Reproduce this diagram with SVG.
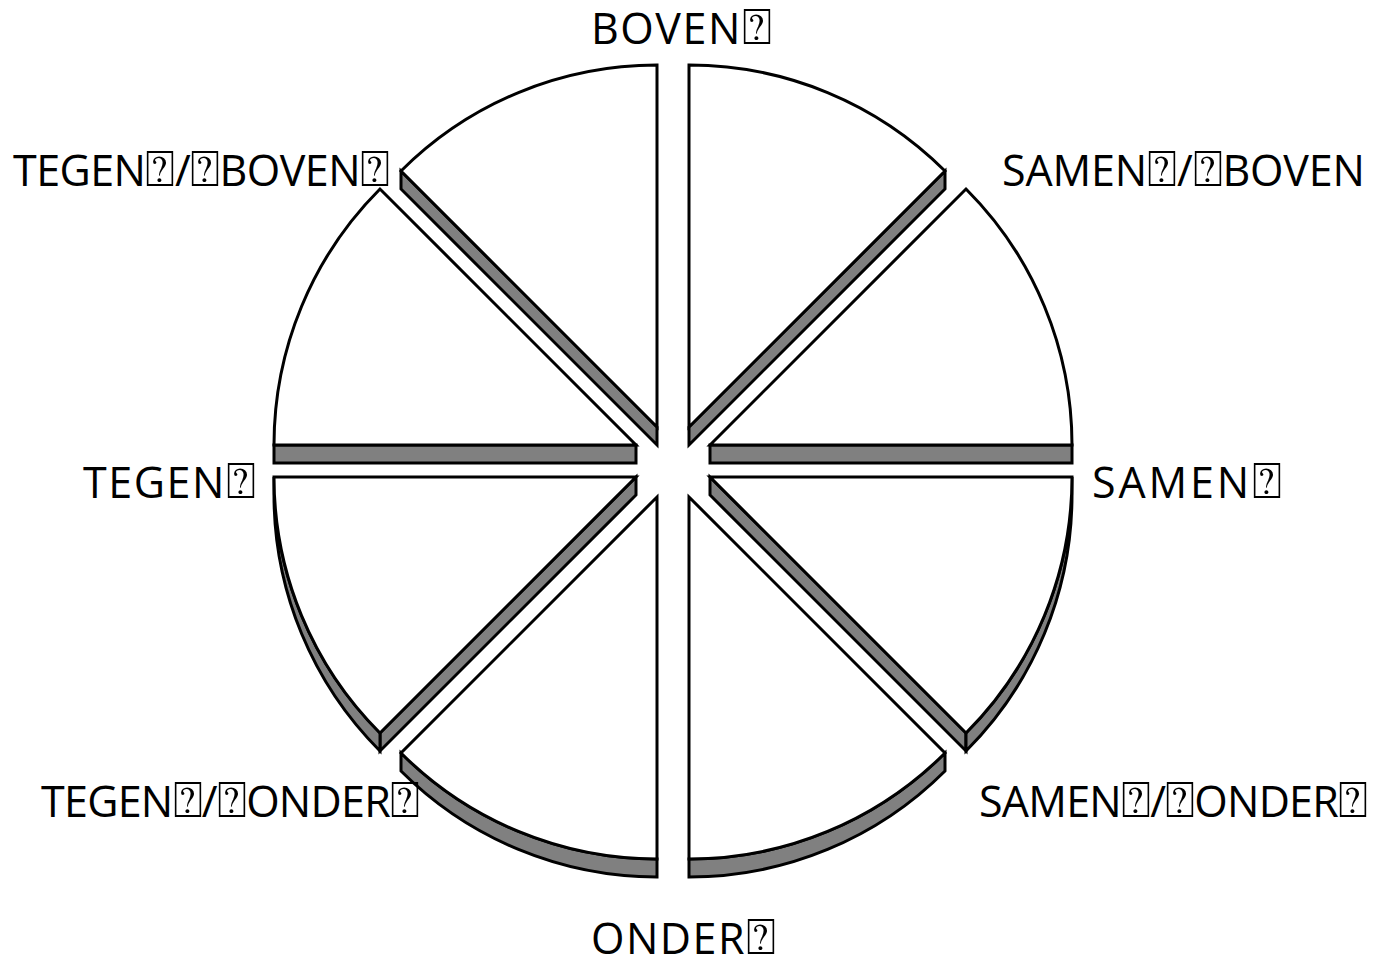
<svg xmlns="http://www.w3.org/2000/svg" width="1377" height="963" viewBox="0 0 1377 963">
<style>
.top{fill:#fff;stroke:#000;stroke-width:3;stroke-linejoin:miter}
.side{fill:#808080;stroke:#000;stroke-width:3;stroke-linejoin:miter}
.lbl{font-family:"Open Sans","Noto Sans","DejaVu Sans",sans-serif;font-size:43px;fill:#000}
.q{font-size:50px}
</style>
<rect width="1377" height="963" fill="#fff"/>
<g id="slice-top-left">
<path class="side" d="M657,427 L401,171 L401,189 L657,445 Z"/>
<path class="top" d="M657,427 L657,65 A362,362 0 0 0 401,171 Z"/>
</g>
<g id="slice-top-right">
<path class="side" d="M689,427 L945,171 L945,189 L689,445 Z"/>
<path class="top" d="M689,427 L689,65 A362,362 0 0 1 945,171 Z"/>
</g>
<g id="slice-right-upper">
<path class="side" d="M710,445 L1072,445 L1072,463 L710,463 Z"/>
<path class="top" d="M710,445 L966,189 A362,362 0 0 1 1072,445 Z"/>
</g>
<g id="slice-right-lower">
<path class="side" d="M710,477 L966,733 L966,751 L710,495 Z"/>
<path class="side" d="M1072,477 A362,362 0 0 1 966,733 L966,751 A362,362 0 0 0 1072,495 Z"/>
<path class="top" d="M710,477 L1072,477 A362,362 0 0 1 966,733 Z"/>
</g>
<g id="slice-bottom-right">
<path class="side" d="M945,753 A362,362 0 0 1 689,859 L689,877 A362,362 0 0 0 945,771 Z"/>
<path class="top" d="M689,497 L945,753 A362,362 0 0 1 689,859 Z"/>
</g>
<g id="slice-bottom-left">
<path class="side" d="M657,859 A362,362 0 0 1 401,753 L401,771 A362,362 0 0 0 657,877 Z"/>
<path class="top" d="M657,497 L657,859 A362,362 0 0 1 401,753 Z"/>
</g>
<g id="slice-left-lower">
<path class="side" d="M636,477 L380,733 L380,751 L636,495 Z"/>
<path class="side" d="M380,733 A362,362 0 0 1 274,477 L274,495 A362,362 0 0 0 380,751 Z"/>
<path class="top" d="M636,477 L380,733 A362,362 0 0 1 274,477 Z"/>
</g>
<g id="slice-left-upper">
<path class="side" d="M274,445 L636,445 L636,463 L274,463 Z"/>
<path class="top" d="M636,445 L274,445 A362,362 0 0 1 380,189 Z"/>
</g>
<g id="connectors"></g>
<g id="labels">
<text id="l-boven" class="lbl" x="591" y="44" textLength="181" lengthAdjust="spacing">BOVEN<tspan class="q">⍰</tspan></text>
<text id="l-tegen-boven" class="lbl" x="13" y="186" textLength="377" lengthAdjust="spacing">TEGEN<tspan class="q">⍰</tspan>/<tspan class="q">⍰</tspan>BOVEN<tspan class="q">⍰</tspan></text>
<text id="l-samen-boven" class="lbl" x="1002" y="186" textLength="363" lengthAdjust="spacing">SAMEN<tspan class="q">⍰</tspan>/<tspan class="q">⍰</tspan>BOVEN</text>
<text id="l-tegen" class="lbl" x="83" y="498" textLength="173" lengthAdjust="spacing">TEGEN<tspan class="q">⍰</tspan></text>
<text id="l-samen" class="lbl" x="1092" y="498" textLength="190" lengthAdjust="spacing">SAMEN<tspan class="q">⍰</tspan></text>
<text id="l-tegen-onder" class="lbl" x="41" y="817" textLength="379" lengthAdjust="spacing">TEGEN<tspan class="q">⍰</tspan>/<tspan class="q">⍰</tspan>ONDER<tspan class="q">⍰</tspan></text>
<text id="l-samen-onder" class="lbl" x="979" y="817" textLength="389" lengthAdjust="spacing">SAMEN<tspan class="q">⍰</tspan>/<tspan class="q">⍰</tspan>ONDER<tspan class="q">⍰</tspan></text>
<text id="l-onder" class="lbl" x="591" y="954" textLength="185" lengthAdjust="spacing">ONDER<tspan class="q">⍰</tspan></text>
</g>
</svg>
